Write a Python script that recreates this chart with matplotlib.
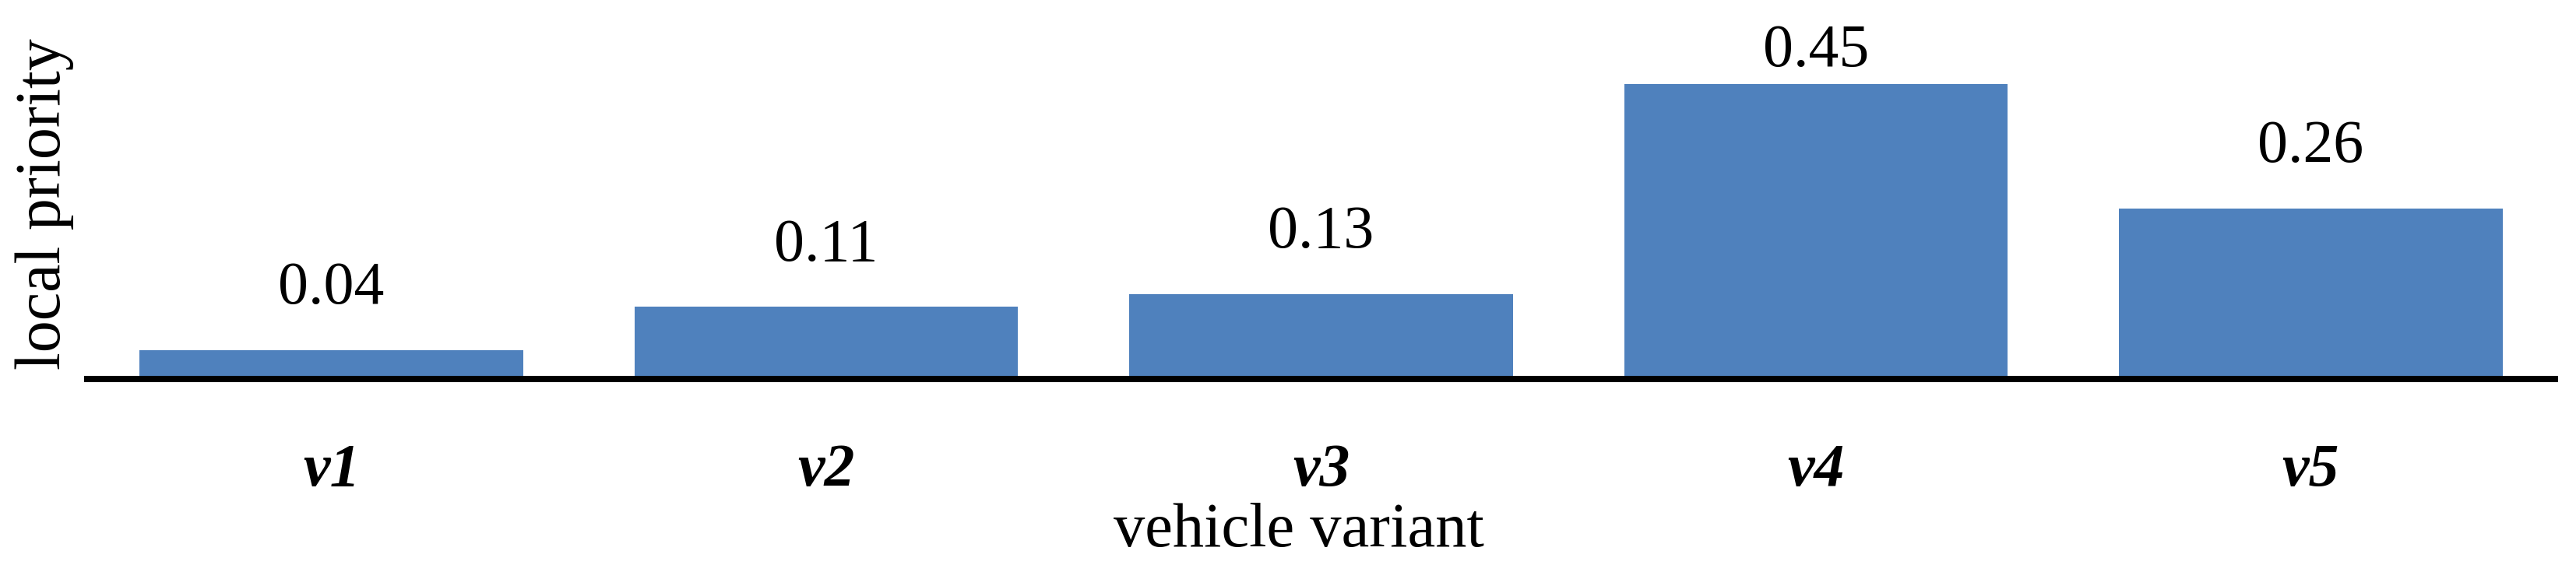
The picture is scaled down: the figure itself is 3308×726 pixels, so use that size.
import matplotlib
matplotlib.use("Agg")
import matplotlib.pyplot as plt

# values
variants = ["v1", "v2", "v3", "v4", "v5"]
priority = [0.044, 0.11, 0.13, 0.45, 0.26]
value_labels = ["0.04", "0.11", "0.13", "0.45", "0.26"]

BAR_COLOR = "#4F81BD"
FONT = "Liberation Serif"

plt.rcParams["font.family"] = FONT

fig = plt.figure(figsize=(33.08, 7.26), dpi=100)
ax = fig.add_axes([0.0326, 0.329, 0.9605, 0.592])

x = list(range(len(variants)))
ax.bar(x, priority, width=0.775, color=BAR_COLOR)

ax.set_xlim(-0.5, len(variants) - 0.5)
ax.set_ylim(0, 0.51)

# data labels, outside end, kept inside the plot area
for xi, v, lab in zip(x, priority, value_labels):
    ly = min(v + 0.093, 0.5)
    ax.text(xi, ly, lab, ha="center", va="center", fontsize=56)

for side in ["top", "right", "left"]:
    ax.spines[side].set_visible(False)
ax.spines["bottom"].set_linewidth(5.8)
ax.spines["bottom"].set_capstyle("butt")

ax.set_yticks([])
ax.set_xticks(x)
ax.set_xticklabels(variants, fontsize=56, fontweight="bold", fontstyle="italic")
ax.tick_params(axis="x", length=0, pad=60)

ax.set_xlabel("vehicle variant", fontsize=58)
ax.xaxis.set_label_coords(0.491, -0.37)
ax.set_ylabel("local priority", fontsize=59)
ax.yaxis.set_label_coords(-0.004, 0.523)

fig.savefig("out.png", dpi=100)
